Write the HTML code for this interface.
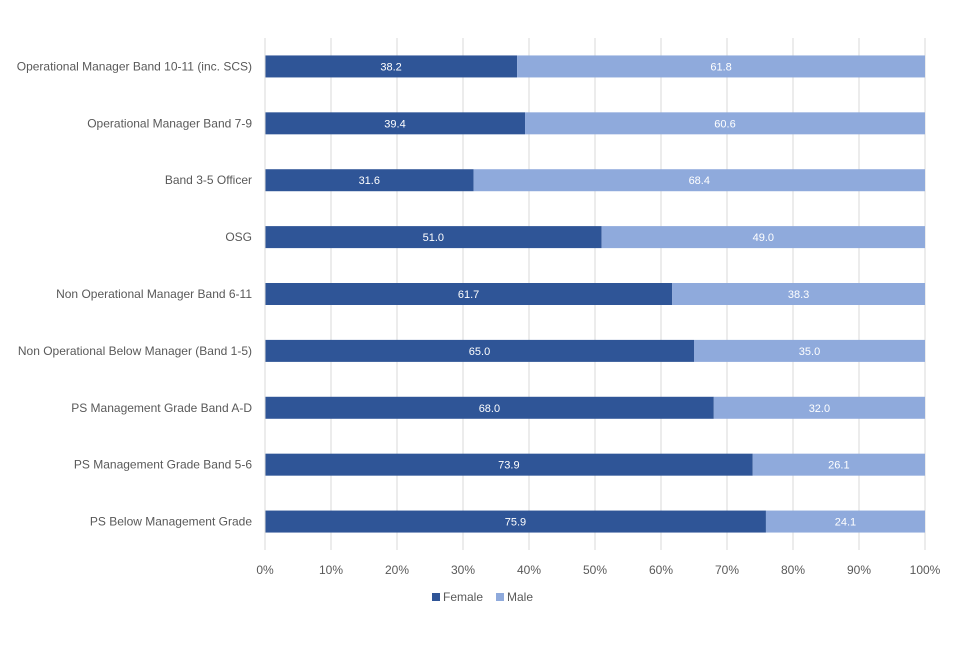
<!DOCTYPE html>
<html><head><meta charset="utf-8"><style>
body{margin:0;background:#fff;font-family:"Liberation Sans",Arial,sans-serif;}
svg text{font-family:"Liberation Sans",Arial,sans-serif;}
</style></head><body>
<svg id="chart" width="960" height="640"></svg>
<script>
const categories=["Operational Manager Band 10-11 (inc. SCS)","Operational Manager Band 7-9","Band 3-5 Officer","OSG","Non Operational Manager Band 6-11","Non Operational Below Manager (Band 1-5)","PS Management Grade Band A-D","PS Management Grade Band 5-6","PS Below Management Grade"];
const female=[38.2,39.4,31.6,51.0,61.7,65.0,68.0,73.9,75.9];
const male=[61.8,60.6,68.4,49.0,38.3,35.0,32.0,26.1,24.1];
const ticks=[0,10,20,30,40,50,60,70,80,90,100];
const svgEl=document.getElementById('chart');
const NS='http://www.w3.org/2000/svg';
const plotX0=265,plotX1=925,plotTop=38,plotBottom=550;
const xs=v=>plotX0+(plotX1-plotX0)*v/100;
const step=(plotBottom-plotTop)/categories.length;
const yc=i=>plotTop+step*(i+0.5);
function mk(t,a,txt){const e=document.createElementNS(NS,t);for(const k in a)e.setAttribute(k,a[k]);if(txt!==undefined)e.textContent=txt;svgEl.appendChild(e);return e;}
ticks.forEach(t=>{
 const g=mk('line',{x1:xs(t),x2:xs(t),y1:plotTop,y2:plotBottom,stroke:'#D9D9D9','stroke-width':1});
 
 
 const l=mk('text',{x:xs(t),y:plotBottom+24,'text-anchor':'middle','font-size':12,fill:'#595959'},t+'%');
 
 
});
categories.forEach((c,i)=>{
 const y=yc(i),h=22;
 const lab=mk('text',{x:252,y:y+4,'text-anchor':'end','font-size':12,fill:'#595959'},c);
 
 
 const f=mk('rect',{x:xs(0),y:y-h/2,width:xs(female[i])-xs(0),height:h,fill:'#2F5597'});
 
 
 const m=mk('rect',{x:xs(female[i]),y:y-h/2,width:xs(female[i]+male[i])-xs(female[i]),height:h,fill:'#8FAADC'});
 
 
 const fl=mk('text',{x:(xs(0)+xs(female[i]))/2,y:y+4,'text-anchor':'middle','font-size':11,fill:'#fff'},female[i].toFixed(1));
 
 
 const ml=mk('text',{x:(xs(female[i])+xs(female[i]+male[i]))/2,y:y+4,'text-anchor':'middle','font-size':11,fill:'#fff'},male[i].toFixed(1));
 
 
});
const ax=mk('line',{x1:plotX0,x2:plotX0,y1:plotTop,y2:plotBottom,stroke:'#D9D9D9','stroke-width':1});


const lg=[['Female','#2F5597',432],['Male','#8FAADC',496]];
lg.forEach(([n,c,x])=>{
 const r=mk('rect',{x:x,y:593,width:8,height:8,fill:c});
 
 
 const t=mk('text',{x:x+11,y:601,'font-size':12,fill:'#595959'},n);
 
 
});
</script>
</body></html>
